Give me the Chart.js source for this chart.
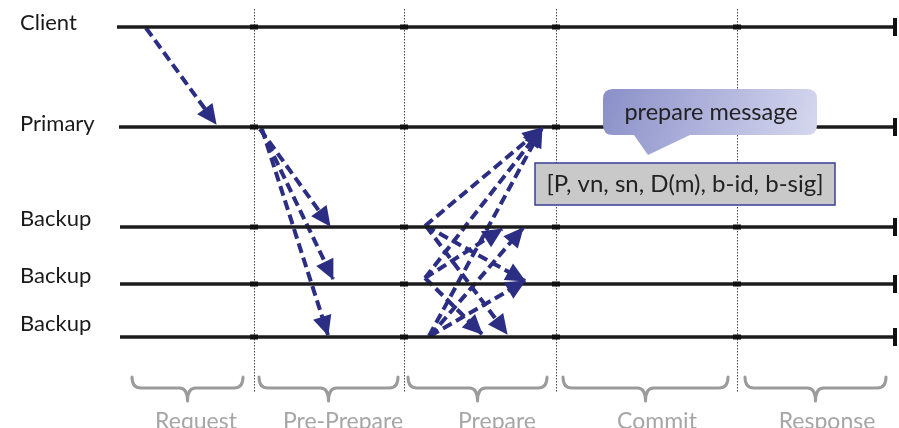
<!DOCTYPE html>
<html>
<head>
<meta charset="utf-8">
<script src="https://cdn.jsdelivr.net/npm/chart.js@4/dist/chart.umd.min.js"></script>
<style>
  html, body { margin: 0; padding: 0; background: #ffffff; }
  #wrap { width: 899px; height: 428px; }
</style>
</head>
<body>
<div id="wrap"><canvas id="c" width="899" height="428"></canvas></div>
<script>
// ---------------- data ----------------
const laneNames   = ["Client", "Primary", "Backup", "Backup", "Backup"];
const laneLevels  = [27, 127, 227, 284, 337];
const laneStart   = [117, 119, 120, 120, 120];
const laneEnd     = [897, 897, 897, 897, 897];

const phaseNames    = ["Request", "Pre-Prepare", "Prepare", "Commit", "Response"];
const phaseDividers = [254, 404, 556, 737];
const phaseFrom     = [132, 259, 408, 563, 745];
const phaseTo       = [243, 398, 547, 728, 886];

// messages (request, pre-prepare, prepare)
const msgFromX = [146, 260, 261, 262, 425, 425, 429, 426, 426, 425, 425, 430, 430];
const msgFromY = [ 28, 129, 129, 129, 226, 278, 336, 226, 226, 278, 278, 336, 336];
const msgToX   = [216, 330, 333, 328, 542, 542, 542, 525, 507, 502, 482, 523, 525];
const msgToY   = [124, 226, 279, 335, 128, 128, 128, 281, 334, 229, 334, 228, 281];

const bubbleText = "prepare message";
const boxText    = "[P, vn, sn, D(m), b-id, b-sig]";

// ---------------- styles / layout ----------------
const FONT = "Lato, 'Open Sans', sans-serif";
const NAVY = "#2b2e83";
const laneLabelBaseline = [30, 131, 226, 283, 331];
const phaseLabelCenter  = [196, 343, 497, 657, 827];

const datasets = [];
laneLevels.forEach((y, i) => {
  datasets.push({
    label: laneNames[i],
    data: [{x: laneStart[i], y: y}, {x: laneEnd[i], y: y}],
    showLine: true, borderColor: "#1c1c1c", borderWidth: 3.5,
    pointRadius: 0, borderCapStyle: "butt", kind: "lane"
  });
});
msgFromX.forEach((x, i) => {
  datasets.push({
    label: "msg" + i,
    data: [{x: x, y: msgFromY[i]}, {x: msgToX[i], y: msgToY[i]}],
    showLine: true, borderColor: NAVY, borderWidth: 4,
    borderDash: [10, 5], pointRadius: 0, borderCapStyle: "butt", kind: "msg"
  });
});

const diagramPlugin = {
  id: "diagram",
  beforeDatasetsDraw(chart) {
    const ctx = chart.ctx, xs = chart.scales.x, ys = chart.scales.y;
    ctx.save();
    // dotted phase dividers
    ctx.strokeStyle = "#444";
    ctx.lineWidth = 1;
    ctx.setLineDash([1.5, 1.5]);
    phaseDividers.forEach(v => {
      const px = Math.round(xs.getPixelForValue(v)) + 0.5;
      ctx.beginPath();
      ctx.moveTo(px, ys.getPixelForValue(9));
      ctx.lineTo(px, ys.getPixelForValue(393));
      ctx.stroke();
    });
    ctx.setLineDash([]);
    // lane labels
    ctx.fillStyle = "#1a1a1a";
    ctx.font = "22px " + FONT;
    ctx.textAlign = "left";
    ctx.textBaseline = "alphabetic";
    laneNames.forEach((n, i) => ctx.fillText(n, xs.getPixelForValue(20), ys.getPixelForValue(laneLabelBaseline[i])));
    // braces
    ctx.strokeStyle = "#9b9b9b";
    ctx.lineWidth = 3;
    ctx.lineJoin = "round";
    ctx.lineCap = "round";
    phaseNames.forEach((n, i) => {
      const a = xs.getPixelForValue(phaseFrom[i]), b = xs.getPixelForValue(phaseTo[i]);
      const c = (a + b) / 2;
      const top = ys.getPixelForValue(377), mid = ys.getPixelForValue(388), tip = ys.getPixelForValue(401);
      ctx.beginPath();
      ctx.moveTo(a, top);
      ctx.quadraticCurveTo(a, mid, a + 9, mid);
      ctx.lineTo(c - 8, mid);
      ctx.quadraticCurveTo(c, mid, c, tip);
      ctx.quadraticCurveTo(c, mid, c + 8, mid);
      ctx.lineTo(b - 9, mid);
      ctx.quadraticCurveTo(b, mid, b, top);
      ctx.stroke();
    });
    // phase labels
    ctx.fillStyle = "#a6a6a6";
    ctx.font = "23px " + FONT;
    ctx.textAlign = "center";
    phaseNames.forEach((n, i) => ctx.fillText(n, xs.getPixelForValue(phaseLabelCenter[i]), ys.getPixelForValue(429)));
    ctx.restore();
  },
  afterDatasetsDraw(chart) {
    const ctx = chart.ctx, xs = chart.scales.x, ys = chart.scales.y;
    ctx.save();
    // lane end caps + divider crossings
    ctx.fillStyle = "#111";
    laneLevels.forEach((y, i) => {
      const px = xs.getPixelForValue(laneEnd[i]), py = ys.getPixelForValue(y);
      ctx.fillRect(px - 4, py - 9, 4, 18);
      phaseDividers.forEach(v => {
        const dx = xs.getPixelForValue(v);
        ctx.fillRect(dx - 4, py - 2.5, 8, 5);
      });
    });
    // arrowheads
    chart.data.datasets.forEach((ds, i) => {
      if (ds.kind !== "msg") return;
      const pts = chart.getDatasetMeta(i).data;
      const p0 = pts[0], p1 = pts[1];
      const ang = Math.atan2(p1.y - p0.y, p1.x - p0.x);
      const L = 19, W = 9.5;
      ctx.fillStyle = NAVY;
      ctx.beginPath();
      ctx.moveTo(p1.x + Math.cos(ang) * 1, p1.y + Math.sin(ang) * 1);
      const bx = p1.x - Math.cos(ang) * L, by = p1.y - Math.sin(ang) * L;
      ctx.lineTo(bx - Math.sin(ang) * W, by + Math.cos(ang) * W);
      ctx.lineTo(bx + Math.sin(ang) * W, by - Math.cos(ang) * W);
      ctx.closePath();
      ctx.fill();
    });
    // speech bubble
    const bx0 = xs.getPixelForValue(603), bx1 = xs.getPixelForValue(817);
    const by0 = ys.getPixelForValue(89), by1 = ys.getPixelForValue(135);
    const r = 10;
    const g = ctx.createLinearGradient(bx0, by0, bx1, by1 + 20);
    g.addColorStop(0, "#8a8fc8");
    g.addColorStop(1, "#d8daf0");
    ctx.fillStyle = g;
    ctx.beginPath();
    ctx.moveTo(bx0 + r, by0);
    ctx.lineTo(bx1 - r, by0);
    ctx.quadraticCurveTo(bx1, by0, bx1, by0 + r);
    ctx.lineTo(bx1, by1 - r);
    ctx.quadraticCurveTo(bx1, by1, bx1 - r, by1);
    ctx.lineTo(xs.getPixelForValue(690), by1);
    ctx.lineTo(xs.getPixelForValue(648), ys.getPixelForValue(155));
    ctx.lineTo(xs.getPixelForValue(634), by1);
    ctx.lineTo(bx0 + r, by1);
    ctx.quadraticCurveTo(bx0, by1, bx0, by1 - r);
    ctx.lineTo(bx0, by0 + r);
    ctx.quadraticCurveTo(bx0, by0, bx0 + r, by0);
    ctx.closePath();
    ctx.fill();
    ctx.fillStyle = "#222";
    ctx.font = "23.5px " + FONT;
    ctx.textAlign = "center";
    ctx.textBaseline = "alphabetic";
    ctx.fillText(bubbleText, xs.getPixelForValue(711), ys.getPixelForValue(120));
    // message format box
    const rx0 = xs.getPixelForValue(535), rx1 = xs.getPixelForValue(835);
    const ry0 = ys.getPixelForValue(163), ry1 = ys.getPixelForValue(205);
    ctx.fillStyle = "#c9c9c9";
    ctx.fillRect(rx0, ry0, rx1 - rx0, ry1 - ry0);
    ctx.strokeStyle = "#3b3f94";
    ctx.lineWidth = 1.5;
    ctx.strokeRect(rx0, ry0, rx1 - rx0, ry1 - ry0);
    ctx.fillStyle = "#222";
    ctx.font = "24px " + FONT;
    ctx.fillText(boxText, xs.getPixelForValue(685), ys.getPixelForValue(192));
    ctx.restore();
  }
};

new Chart(document.getElementById("c"), {
  type: "scatter",
  data: { datasets: datasets },
  options: {
    responsive: false,
    devicePixelRatio: 1,
    animation: false,
    layout: { padding: 0 },
    plugins: { legend: { display: false }, tooltip: { enabled: false } },
    scales: {
      x: { type: "linear", min: 0, max: 899, display: false },
      y: { type: "linear", min: 0, max: 428, reverse: true, display: false }
    },
    elements: { line: { tension: 0 } }
  },
  plugins: [diagramPlugin]
});
</script>
</body>
</html>
